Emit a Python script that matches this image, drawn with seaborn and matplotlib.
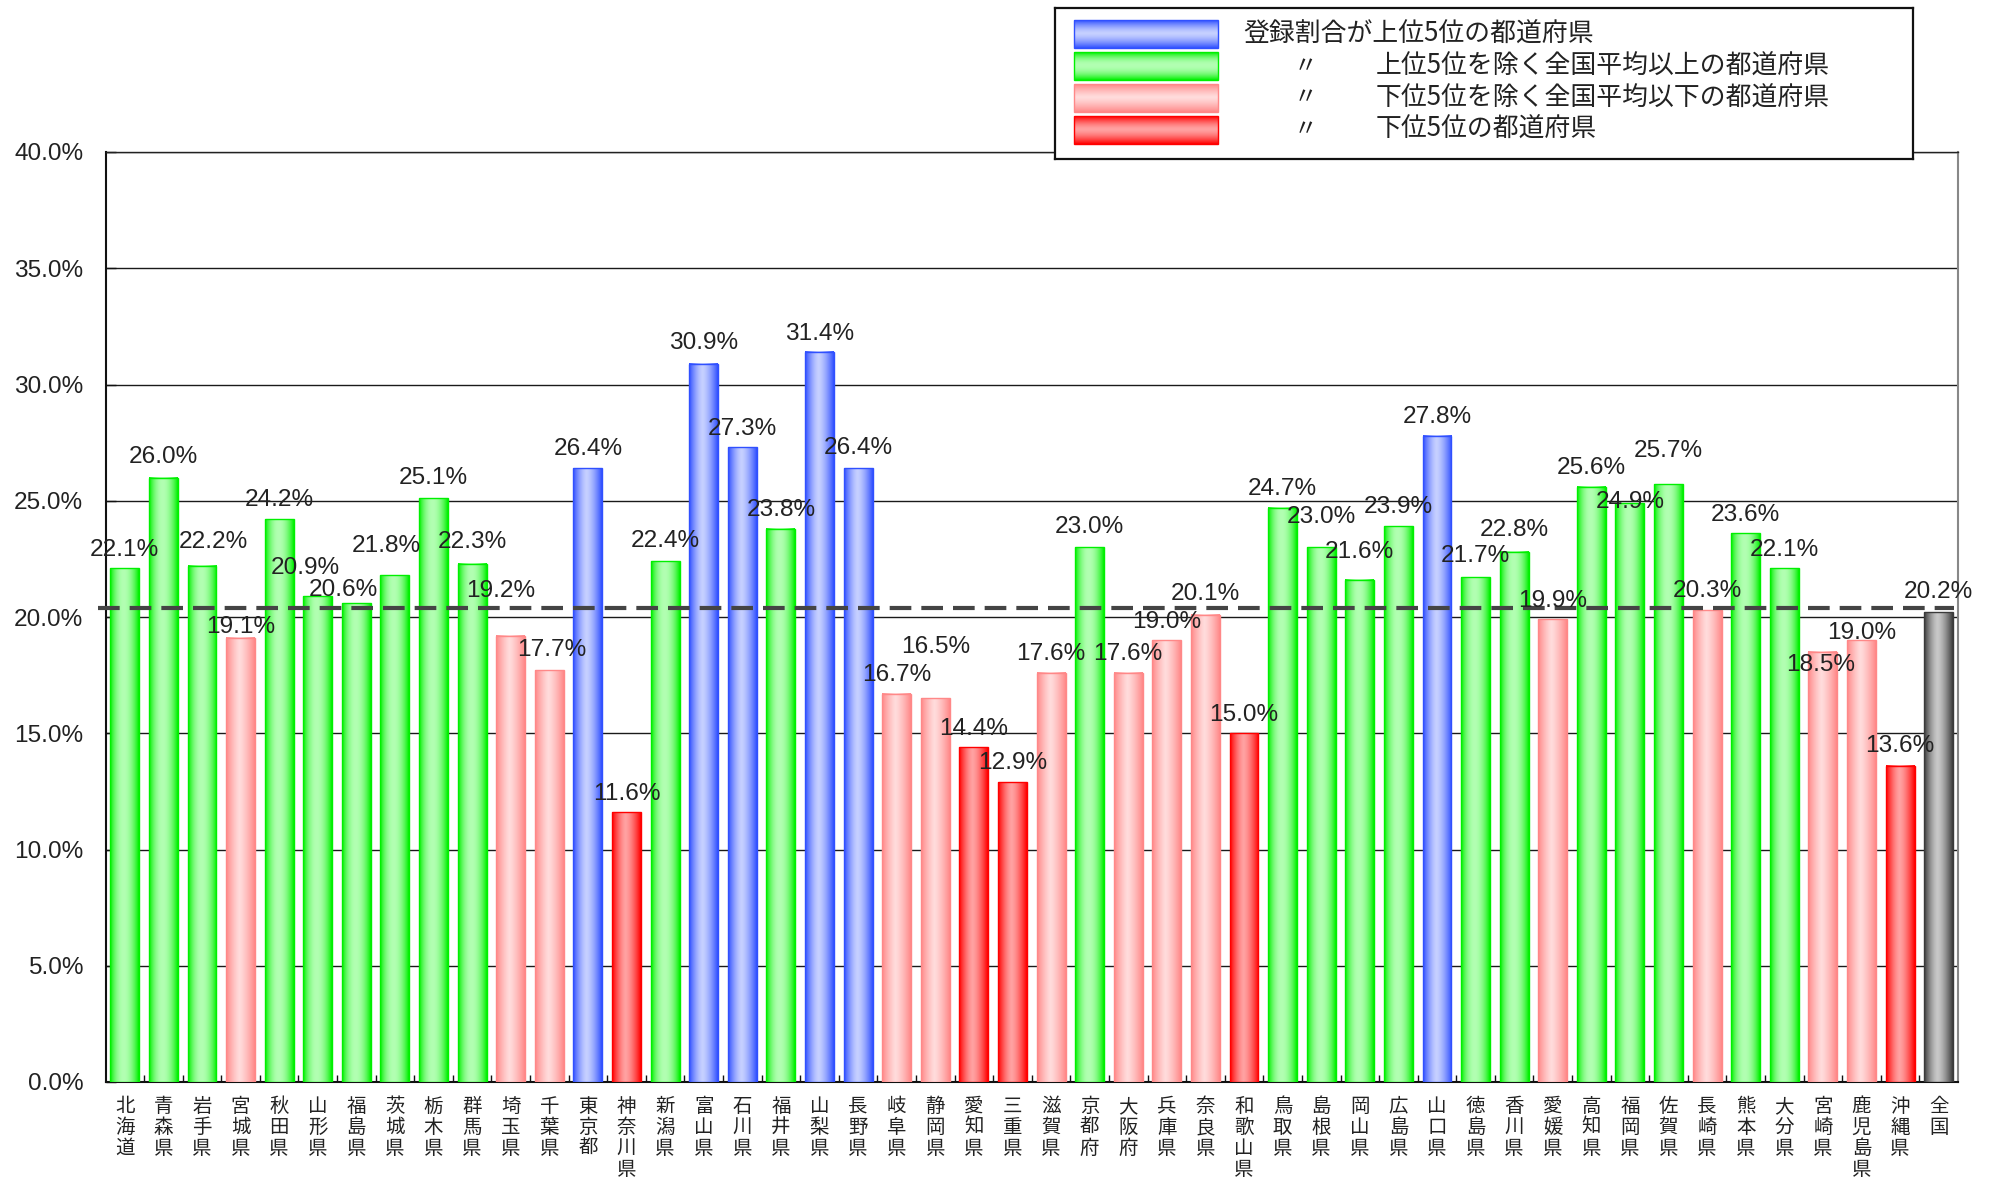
import numpy as np
import pandas as pd
import matplotlib
matplotlib.use("Agg")
import matplotlib.pyplot as plt
import seaborn as sns
from matplotlib.colors import to_rgb
from matplotlib.ticker import FixedLocator

# ---------------- data ----------------
prefs = ["北海道", "青森県", "岩手県", "宮城県", "秋田県", "山形県", "福島県", "茨城県",
         "栃木県", "群馬県", "埼玉県", "千葉県", "東京都", "神奈川県", "新潟県", "富山県",
         "石川県", "福井県", "山梨県", "長野県", "岐阜県", "静岡県", "愛知県", "三重県",
         "滋賀県", "京都府", "大阪府", "兵庫県", "奈良県", "和歌山県", "鳥取県", "島根県",
         "岡山県", "広島県", "山口県", "徳島県", "香川県", "愛媛県", "高知県", "福岡県",
         "佐賀県", "長崎県", "熊本県", "大分県", "宮崎県", "鹿児島県", "沖縄県", "全国"]
values = [22.1, 26.0, 22.2, 19.1, 24.2, 20.9, 20.6, 21.8,
          25.1, 22.3, 19.2, 17.7, 26.4, 11.6, 22.4, 30.9,
          27.3, 23.8, 31.4, 26.4, 16.7, 16.5, 14.4, 12.9,
          17.6, 23.0, 17.6, 19.0, 20.1, 15.0, 24.7, 23.0,
          21.6, 23.9, 27.8, 21.7, 22.8, 19.9, 25.6, 24.9,
          25.7, 20.3, 23.6, 22.1, 18.5, 19.0, 13.6, 20.2]
groups = ["above", "above", "above", "below", "above", "above", "above", "above",
          "above", "above", "below", "below", "top", "bottom", "above", "top",
          "top", "above", "top", "top", "below", "below", "bottom", "bottom",
          "below", "above", "below", "below", "below", "bottom", "above", "above",
          "above", "above", "top", "above", "above", "below", "above", "above",
          "above", "below", "above", "above", "below", "below", "bottom", "national"]
avg_line = 20.4
y_ticks = [0, 5, 10, 15, 20, 25, 30, 35, 40]
legend_main = "登録割合が上位5位の都道府県"
legend_ditto = "〃"
legend_rest = ["上位5位を除く全国平均以上の都道府県",
               "下位5位を除く全国平均以下の都道府県",
               "下位5位の都道府県"]

# label placement offsets (style): x in bar units, y in % units
label_dx = [0, 0, 0.3, 0, 0, -0.33, -0.33, -0.23, 0, 0, -0.25, 0.07, 0, 0, 0, 0,
            0, 0, 0, 0, 0, 0, 0, 0, 0, 0, 0, 0, 0, 0, 0, 0,
            0, 0, 0, 0, 0, 0, 0, 0, 0, 0, 0, 0, -0.07, 0, 0, 0]
label_dy = [0.78, 0.87, 1.02, 0.46, 0.82, 1.22, 0.55, 1.26, 0.87, 0.93, 1.91, 0.87,
            0.82, 0.77, 0.87, 0.90, 0.77, 0.82, 0.77, 0.87, 0.82, 2.19, 0.77, 0.82,
            0.82, 0.87, 0.82, 0.77, 0.87, 0.77, 0.82, 1.31, 1.20, 0.82, 0.82, 0.93,
            0.93, 0.77, 0.82, 0.05, 1.42, 0.82, 0.77, 0.77, -0.55, 0.33, 0.87, 0.87]

# ---------------- style ----------------
edge_col = {"top": "#3050ff", "above": "#00f000", "below": "#ff8888",
            "bottom": "#ff0000", "national": "#3a3a3a"}
light_col = {"top": "#c6d0ff", "above": "#b2ffb2", "below": "#ffdcdc",
             "bottom": "#ffa2a2", "national": "#c8c8c8"}
grad_power = {"top": 1.5, "above": 2.0, "below": 1.3, "bottom": 1.5, "national": 1.5}
legend_order = ["top", "above", "below", "bottom"]
num_font = ["Liberation Sans", "DejaVu Sans"]
num_size = 17.6


def gradient(group, n=96, peak=0.47):
    t = np.linspace(0, 1, n)
    d = np.where(t < peak, (peak - t) / peak, (t - peak) / (1 - peak))
    f = 1 - d ** grad_power[group]
    e = np.array(to_rgb(edge_col[group]))
    l = np.array(to_rgb(light_col[group]))
    return (1 - f)[:, None] * e + f[:, None] * l


sns.set_theme(style="white")
plt.rcParams["font.family"] = ["Noto Sans CJK JP", "DejaVu Sans"]

W, H = 1993, 1186
fig = plt.figure(figsize=(W / 100, H / 100), dpi=100)
ax = fig.add_axes([105.5 / W, 1 - 1082 / H, (1958 - 105.5) / W, (1082 - 152) / H])

df = pd.DataFrame({"pref": prefs, "value": values, "group": groups})
sns.barplot(data=df, x="pref", y="value", hue="group", order=prefs,
            palette=edge_col, dodge=False, width=0.75, errorbar=None,
            legend=False, ax=ax, zorder=3)

# gradient fill for each bar
for p in list(ax.patches):
    h = p.get_height()
    if not np.isfinite(h) or h <= 0:
        continue
    x0 = p.get_x()
    w = p.get_width()
    idx = int(round(x0 + w / 2))
    g = groups[idx]
    img = gradient(g)[None, :, :]
    ax.imshow(img, extent=[x0, x0 + w, 0, h], aspect="auto",
              interpolation="bilinear", zorder=2.9)
    p.set_facecolor("none")
    p.set_edgecolor(edge_col[g])
    p.set_linewidth(1.0)
    p.set_zorder(3.1)

ax.set_xlim(-0.5, len(prefs) - 0.5)
ax.set_ylim(0, 40)
ax.set_aspect("auto")

# grid
ax.set_axisbelow(True)
ax.yaxis.grid(True, color="#1a1a1a", linewidth=1.0)
ax.xaxis.grid(False)

# average dashed line
ax.axhline(avg_line, xmin=-0.004, xmax=0.998, color="#444444", linewidth=3.0,
           linestyle=(0, (5.2, 2.4)), zorder=4, clip_on=False)

# y axis
ax.set_yticks(y_ticks)
ax.set_yticklabels([f"{v:.1f}%" for v in y_ticks], fontsize=num_size,
                   family=num_font, color="#222222")
ax.tick_params(axis="y", direction="in", length=7, width=1, color="#111111",
               pad=16, left=True)

# x axis
ax.set_xticks(range(len(prefs)))
ax.set_xticklabels(["\n".join(p) for p in prefs], fontsize=14,
                   linespacing=1.0, va="top", color="#222222")
ax.tick_params(axis="x", which="major", length=0, pad=10)
ax.xaxis.set_minor_locator(FixedLocator(np.arange(0.5, len(prefs) - 0.5, 1)))
ax.tick_params(axis="x", which="minor", direction="in", length=5, width=1,
               color="#111111", bottom=True)
ax.set_xlabel("")
ax.set_ylabel("")

for s in ["left", "bottom"]:
    ax.spines[s].set_color("#111111")
    ax.spines[s].set_linewidth(1.5)
ax.spines["top"].set_color("#222222")
ax.spines["top"].set_linewidth(1.0)
ax.spines["right"].set_color("#888888")
ax.spines["right"].set_linewidth(1.5)

# value labels
for i, v in enumerate(values):
    ax.text(i + label_dx[i], v + label_dy[i], f"{v:.1f}%", ha="center",
            va="center", fontsize=num_size, family=num_font, color="#222222",
            zorder=5)

# ---------------- legend box ----------------
lx0, ly0, lx1, ly1 = 1055, 8, 1913, 159
lax = fig.add_axes([lx0 / W, 1 - ly1 / H, (lx1 - lx0) / W, (ly1 - ly0) / H])
lw_, lh_ = lx1 - lx0, ly1 - ly0
lax.set_xticks([])
lax.set_yticks([])
for s in lax.spines.values():
    s.set_color("#111111")
    s.set_linewidth(1.6)
    s.set_visible(True)
lax.set_facecolor("white")

row_y = [26.3, 58.1, 89.9, 121.6]
for k, g in enumerate(legend_order):
    cy = row_y[k]
    grad = gradient(g)[:, None, :]
    lax.imshow(grad, extent=[19, 163, cy + 14, cy - 14], aspect="auto",
               interpolation="bilinear", zorder=2)
    lax.add_patch(plt.Rectangle((19, cy - 14), 144, 28, fill=False,
                                edgecolor=edge_col[g], linewidth=1.0, zorder=3))
    if k == 0:
        lax.text(188, cy, legend_main, fontsize=18.6, va="center", ha="left",
                 color="#222222")
    else:
        lax.text(250, cy, legend_ditto, fontsize=17, va="center", ha="center",
                 color="#222222")
        lax.text(321, cy, legend_rest[k - 1], fontsize=18.6, va="center",
                 ha="left", color="#222222")
lax.set_xlim(0, lw_)
lax.set_ylim(lh_, 0)
lax.set_aspect("auto")

fig.savefig("out.png", dpi=100, facecolor="white")
